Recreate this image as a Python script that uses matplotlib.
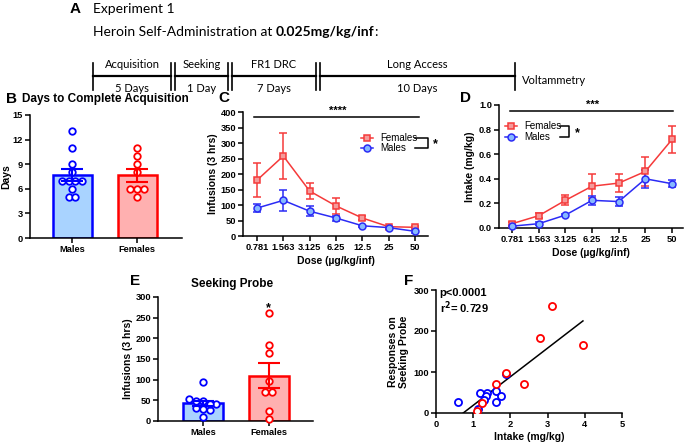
import numpy as np
import matplotlib
matplotlib.use('Agg')
import matplotlib.pyplot as plt
from matplotlib.lines import Line2D

plt.rcParams['font.family'] = ['Liberation Sans', 'DejaVu Sans']
plt.rcParams['font.weight'] = 'bold'
plt.rcParams['axes.labelweight'] = 'bold'
plt.rcParams['axes.linewidth'] = 1.1
plt.rcParams['xtick.major.width'] = 1.1
plt.rcParams['ytick.major.width'] = 1.1
plt.rcParams['xtick.major.size'] = 3.5
plt.rcParams['ytick.major.size'] = 3.5
plt.rcParams['xtick.labelsize'] = 6.7
plt.rcParams['ytick.labelsize'] = 6.7

# ---------------- data ----------------
groups = ['Males', 'Females']
acq_males = [13, 11, 9, 8, 7, 7, 7, 7, 6, 5, 5]
acq_females = [11, 10, 9, 8, 6, 6, 6, 5]

doses = ['0.781', '1.563', '3.125', '6.25', '12.5', '25', '50']
inf_fem = [180, 258, 145, 97, 58, 30, 28]
inf_fem_err = [54, 75, 26, 27, 6, 3, 3]
inf_mal = [90, 115, 80, 58, 33, 27, 15]
inf_mal_err = [13, 35, 17, 8, 4, 3, 4]

int_fem = [0.035, 0.10, 0.225, 0.34, 0.365, 0.46, 0.72]
int_fem_err = [0.01, 0.02, 0.04, 0.095, 0.075, 0.115, 0.11]
int_mal = [0.015, 0.035, 0.105, 0.225, 0.215, 0.40, 0.36]
int_mal_err = [0.005, 0.01, 0.01, 0.035, 0.035, 0.075, 0.03]

intake_males = [0.60, 1.17, 1.36, 1.34, 1.29, 1.12, 1.62, 1.62, 1.74, 1.88]
resp_males = [27, 49, 49, 41, 31, 10, 54, 28, 42, 94]
intake_females = [1.11, 1.24, 1.62, 1.88, 2.36, 2.80, 3.13, 3.95]
resp_females = [6, 25, 70, 97, 70, 183, 261, 165]

timeline_phases = ['Acquisition', 'Seeking', 'FR1 DRC', 'Long Access']
timeline_durations = ['5 Days', '1 Day', '7 Days', '10 Days']

# ---------------- colours ----------------
BLUE = '#0000FF'
RED = '#FF0000'
BLUE_FILL = '#A9D3FF'
RED_FILL = '#FFB0B0'
BLUE_LINE = '#2B2BF5'
RED_LINE = '#F53A3A'
BLUE_MK = '#86B9FF'
RED_MK = '#F49A9A'

W, H = 685, 445
fig = plt.figure(figsize=(W / 100, H / 100), dpi=100)


def fx(px):
    return px / W


def fy(py):
    return 1 - py / H


def add_axes(x0, y0, x1, y1):
    return fig.add_axes([fx(x0), fy(y1), (x1 - x0) / W, (y1 - y0) / H])


def style(ax):
    for s in ['top', 'right']:
        ax.spines[s].set_visible(False)
    ax.tick_params(direction='out', pad=1.5)


def swarm_offsets(values, units_per_px_y, units_per_px_x, d=6.8):
    vals = np.asarray(values, float)
    order = np.argsort(-vals)
    offs = np.zeros(len(vals))
    rows = []
    for i in order:
        if rows and abs(vals[rows[-1][0]] - vals[i]) / units_per_px_y < 0.8 * d:
            rows[-1].append(i)
        else:
            rows.append([i])
    for r in rows:
        n = len(r)
        for k, i in enumerate(r):
            offs[i] = (k - (n - 1) / 2) * d * units_per_px_x
    return offs


def bar_dot(ax, data_sets, fills, edges, ypx, xpx):
    for i, (vals, fc, ec) in enumerate(zip(data_sets, fills, edges)):
        vals = np.asarray(vals, float)
        m = vals.mean()
        sem = vals.std(ddof=1) / np.sqrt(len(vals))
        ax.bar(i, m, width=0.6, color=fc, edgecolor=ec, linewidth=1.8, zorder=2)
        offs = swarm_offsets(vals, ypx, xpx)
        ax.scatter(i + offs, vals, s=22, facecolor='white', edgecolor=ec,
                   linewidth=1.3, zorder=3, clip_on=False)
        ax.errorbar(i, m, yerr=sem, color=ec, capsize=8, elinewidth=1.5,
                    capthick=1.5, zorder=4, fmt='none')


# ---------------- header (panel A) ----------------
HF = 'Lato'
fig.text(fx(70), fy(9), 'A', fontsize=11, fontweight='bold', va='center', ha='left')
fig.text(fx(93), fy(9), 'Experiment 1', fontsize=10, family=HF, fontweight='normal', va='center')
t1 = fig.text(fx(93), fy(32), 'Heroin Self-Administration at ', fontsize=10, family=HF,
              fontweight='normal', va='center')
fig.canvas.draw()
r = fig.canvas.get_renderer()
bb = t1.get_window_extent(r)
t2 = fig.text(bb.x1 / W, fy(32), '0.025mg/kg/inf', fontsize=10, family=HF,
              fontweight='bold', va='center')
bb2 = t2.get_window_extent(r)
fig.text(bb2.x1 / W, fy(32), ':', fontsize=10, family=HF, fontweight='normal', va='center')

line_y = 76
bounds = [(93, 171), (175, 228), (232, 316), (320, 515)]
for (a, b), ph, du in zip(bounds, timeline_phases, timeline_durations):
    fig.add_artist(Line2D([fx(a), fx(b)], [fy(line_y), fy(line_y)], color='black', lw=1.6))
    fig.add_artist(Line2D([fx(a), fx(a)], [fy(63), fy(90)], color='black', lw=1.2))
    fig.add_artist(Line2D([fx(b), fx(b)], [fy(63), fy(90)], color='black', lw=1.2))
    fig.text(fx((a + b) / 2), fy(64), ph, fontsize=8, family=HF, fontweight='normal',
             ha='center', va='center')
    fig.text(fx((a + b) / 2), fy(89), du, fontsize=8, family=HF, fontweight='normal',
             ha='center', va='center')
fig.text(fx(522), fy(80), 'Voltammetry', fontsize=8, family=HF, fontweight='normal',
         ha='left', va='center')

# ---------------- panel B ----------------
axB = add_axes(30, 115, 182, 238)
style(axB)
bar_dot(axB, [acq_males, acq_females], [BLUE_FILL, RED_FILL], [BLUE, RED],
        ypx=15 / 123, xpx=1 / 65)
axB.set_xlim(-0.646, 1.69)
axB.set_ylim(0, 15)
axB.set_yticks([0, 3, 6, 9, 12, 15])
axB.set_xticks([0, 1])
axB.set_xticklabels(groups)
axB.set_ylabel('Days', fontsize=7.5, labelpad=1)
fig.text(fx(6), fy(99), 'B', fontsize=11, fontweight='bold', va='center')
fig.text(fx(22), fy(99), 'Days to Complete Acquisition', fontsize=8.5, fontweight='bold', va='center')

# ---------------- panel C ----------------
axC = add_axes(243, 112, 428, 236)
style(axC)
xs = np.arange(len(doses))
axC.errorbar(xs, inf_fem, yerr=inf_fem_err, color=RED_LINE, lw=1.1, marker='s', ms=5,
             mfc=RED_MK, mec=RED_LINE, mew=1.1, capsize=3, elinewidth=1.1, zorder=3, clip_on=False)
axC.errorbar(xs, inf_mal, yerr=inf_mal_err, color=BLUE_LINE, lw=1.1, marker='o', ms=5,
             mfc=BLUE_MK, mec=BLUE_LINE, mew=1.1, capsize=3, elinewidth=1.1, zorder=3, clip_on=False)
axC.set_xlim(-0.53, 6.49)
axC.set_ylim(0, 400)
axC.set_yticks(np.arange(0, 401, 50))
axC.set_xticks(xs)
axC.set_xticklabels(doses)
axC.set_ylabel('Infusions (3 hrs)', fontsize=7.5, labelpad=2)
axC.set_xlabel('Dose (\u00b5g/kg/inf)', fontsize=7.5, labelpad=3)
axC.plot([0.059, 0.951], [0.96, 0.96], transform=axC.transAxes, color='black', lw=1.1, clip_on=False)
axC.text(0.51, 0.965, '****', transform=axC.transAxes, ha='center', va='bottom', fontsize=8)
for yy, lab, c, mk, mf in [(0.793, 'Females', RED_LINE, 's', RED_MK), (0.707, 'Males', BLUE_LINE, 'o', BLUE_MK)]:
    axC.plot([0.64, 0.705], [yy, yy], transform=axC.transAxes, color=c, lw=1.1, clip_on=False)
    axC.plot([0.672], [yy], transform=axC.transAxes, marker=mk, ms=5, mfc=mf, mec=c, mew=1.1,
             clip_on=False)
    axC.text(0.74, yy, lab, transform=axC.transAxes, ha='left', va='center', fontsize=7,
             fontweight='normal')
axC.plot([0.93, 1.0, 1.0, 0.93], [0.793, 0.793, 0.707, 0.707], transform=axC.transAxes,
         color='black', lw=1.1, clip_on=False)
axC.text(1.04, 0.74, '*', transform=axC.transAxes, ha='center', va='center', fontsize=9)
fig.text(fx(218), fy(98), 'C', fontsize=11, fontweight='bold', va='center')

# ---------------- panel D ----------------
axD = add_axes(499, 105, 683, 228)
style(axD)
axD.errorbar(xs, int_fem, yerr=int_fem_err, color=RED_LINE, lw=1.1, marker='s', ms=5,
             mfc=RED_MK, mec=RED_LINE, mew=1.1, capsize=3, elinewidth=1.1, zorder=3, clip_on=False)
axD.errorbar(xs, int_mal, yerr=int_mal_err, color=BLUE_LINE, lw=1.1, marker='o', ms=5,
             mfc=BLUE_MK, mec=BLUE_LINE, mew=1.1, capsize=3, elinewidth=1.1, zorder=3, clip_on=False)
axD.set_xlim(-0.49, 6.41)
axD.set_ylim(0, 1.0)
axD.set_yticks(np.arange(0, 1.01, 0.2))
axD.set_yticklabels(['%.1f' % v for v in np.arange(0, 1.01, 0.2)])
axD.set_xticks(xs)
axD.set_xticklabels(doses)
axD.set_ylabel('Intake (mg/kg)', fontsize=7.5, labelpad=3)
axD.set_xlabel('Dose (\u00b5g/kg/inf)', fontsize=7.5, labelpad=3)
axD.plot([0.06, 0.944], [0.954, 0.954], transform=axD.transAxes, color='black', lw=1.1, clip_on=False)
axD.text(0.51, 0.958, '***', transform=axD.transAxes, ha='center', va='bottom', fontsize=8)
for yy, lab, c, mk, mf in [(0.829, 'Females', RED_LINE, 's', RED_MK), (0.742, 'Males', BLUE_LINE, 'o', BLUE_MK)]:
    axD.plot([0.033, 0.098], [yy, yy], transform=axD.transAxes, color=c, lw=1.1, clip_on=False)
    axD.plot([0.065], [yy], transform=axD.transAxes, marker=mk, ms=5, mfc=mf, mec=c, mew=1.1,
             clip_on=False)
    axD.text(0.136, yy, lab, transform=axD.transAxes, ha='left', va='center', fontsize=7,
             fontweight='normal')
axD.plot([0.332, 0.38, 0.38, 0.332], [0.829, 0.829, 0.742, 0.742], transform=axD.transAxes,
         color='black', lw=1.1, clip_on=False)
axD.text(0.424, 0.775, '*', transform=axD.transAxes, ha='center', va='center', fontsize=9)
fig.text(fx(460), fy(98), 'D', fontsize=11, fontweight='bold', va='center')

# ---------------- panel E ----------------
axE = add_axes(158, 297, 313, 421)
style(axE)
bar_dot(axE, [resp_males, resp_females], [BLUE_FILL, RED_FILL], [BLUE, RED],
        ypx=300 / 124, xpx=1 / 66)
axE.set_xlim(-0.68, 1.67)
axE.set_ylim(0, 300)
axE.set_yticks(np.arange(0, 301, 50))
axE.set_xticks([0, 1])
axE.set_xticklabels(groups)
axE.set_ylabel('Infusions (3 hrs)', fontsize=7.5, labelpad=2)
axE.text(1, 272, '*', ha='center', va='center', fontsize=9)
fig.text(fx(130), fy(281), 'E', fontsize=11, fontweight='bold', va='center')
fig.text(fx(232), fy(284), 'Seeking Probe', fontsize=8.5, fontweight='bold', va='center', ha='center')

# ---------------- panel F ----------------
axF = add_axes(436, 290, 622, 413)
style(axF)
axF.scatter(intake_males, resp_males, s=26, facecolor='white', edgecolor=BLUE, linewidth=1.3, zorder=3)
axF.scatter(intake_females, resp_females, s=26, facecolor='white', edgecolor=RED, linewidth=1.3, zorder=3)
allx = np.array(intake_males + intake_females)
ally = np.array(resp_males + resp_females)
slope, icpt = np.polyfit(allx, ally, 1)
x0 = max(-icpt / slope, 0)
x1 = allx.max()
axF.plot([x0, x1], [slope * x0 + icpt, slope * x1 + icpt], color='black', lw=1.1, zorder=2)
axF.set_xlim(0, 5)
axF.set_ylim(0, 300)
axF.set_xticks(range(6))
axF.set_yticks([0, 100, 200, 300])
axF.set_xlabel('Intake (mg/kg)', fontsize=7.5, labelpad=2)
axF.set_ylabel('Responses on\nSeeking Probe', fontsize=7.5, labelpad=3)
axF.text(0.02, 0.975, 'p<0.0001', transform=axF.transAxes, ha='left', va='center', fontsize=8)
axF.text(0.02, 0.855, 'r$^2$= 0.729', transform=axF.transAxes, ha='left', va='center', fontsize=8)
fig.text(fx(404), fy(281), 'F', fontsize=11, fontweight='bold', va='center')

fig.savefig('out.png', dpi=100)
